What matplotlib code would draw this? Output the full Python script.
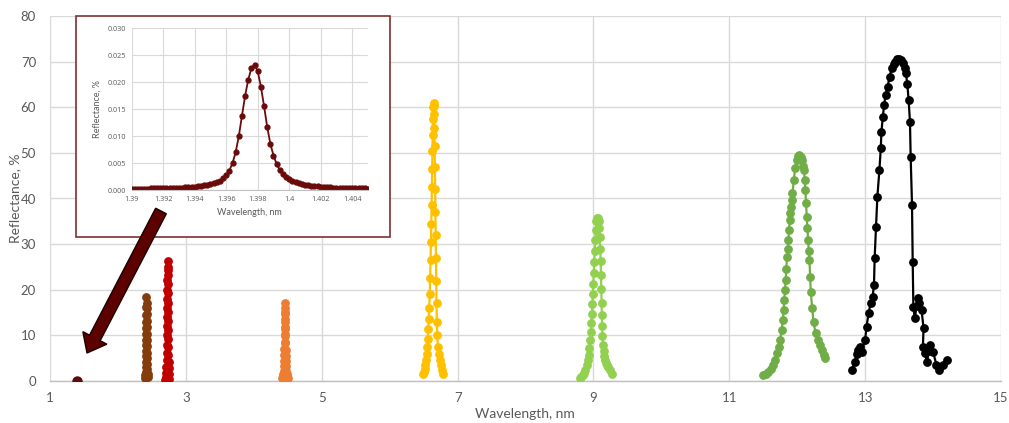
import matplotlib
matplotlib.use("Agg")
import matplotlib.pyplot as plt
from matplotlib import patches, transforms

plt.rcParams['font.family'] = ['Lato', 'DejaVu Sans']

# ---------------- data ----------------
maroon_x = [1.40]
maroon_y = [0.02]

brown_x = [2.400, 2.403, 2.406, 2.408, 2.410, 2.411, 2.412, 2.413, 2.414, 2.415, 2.416,
           2.417, 2.418, 2.419, 2.420, 2.421, 2.422, 2.423, 2.424, 2.425, 2.426, 2.427,
           2.428, 2.429, 2.430, 2.432, 2.434, 2.437, 2.440]
brown_y = [0.7, 1.3, 2.0, 3.0, 4.2, 5.4, 6.6, 7.8, 9.0, 10.3, 11.6,
           13.0, 14.5, 16.2, 18.5, 17.2, 16.0, 14.6, 13.2, 11.8, 10.4, 9.0,
           7.6, 6.2, 5.0, 3.8, 2.6, 1.6, 0.8]

red_x = [2.700, 2.705, 2.710, 2.714, 2.717, 2.719, 2.721, 2.723, 2.724, 2.725, 2.726,
         2.727, 2.728, 2.729, 2.730, 2.731, 2.732, 2.733, 2.734, 2.735, 2.736, 2.737,
         2.738, 2.739, 2.740, 2.742, 2.744, 2.747, 2.750, 2.754, 2.758]
red_y = [0.3, 0.9, 1.8, 3.0, 4.5, 6.2, 8.0, 10.0, 12.0, 14.0, 16.0,
         18.0, 20.0, 22.2, 24.3, 26.3, 25.0, 23.2, 21.2, 19.2, 17.2, 15.2,
         13.2, 11.2, 9.3, 7.5, 5.8, 4.2, 2.8, 1.5, 0.4]

orange_x = [4.420, 4.428, 4.435, 4.440, 4.444, 4.447, 4.450, 4.452, 4.454, 4.455, 4.456,
            4.457, 4.458, 4.459, 4.460, 4.461, 4.462, 4.463, 4.464, 4.465, 4.467, 4.469,
            4.472, 4.476, 4.481, 4.487, 4.494, 4.500]
orange_y = [0.6, 1.0, 1.6, 2.3, 3.2, 4.3, 5.6, 7.0, 8.6, 10.2, 11.8,
            13.5, 15.2, 17.0, 16.0, 14.6, 13.0, 11.4, 9.8, 8.3, 6.8, 5.5,
            4.3, 3.2, 2.3, 1.6, 1.0, 0.7]

gold_x = [6.495, 6.505, 6.515, 6.525, 6.535, 6.545, 6.552, 6.560, 6.567, 6.575, 6.582,
          6.590, 6.596, 6.602, 6.608, 6.613, 6.618, 6.622, 6.626, 6.630, 6.634, 6.638,
          6.642, 6.646, 6.650, 6.654, 6.658, 6.662, 6.666, 6.670, 6.674, 6.678, 6.682,
          6.686, 6.690, 6.695, 6.700, 6.710, 6.720, 6.735, 6.750, 6.770, 6.790]
gold_y = [1.5, 2.0, 2.6, 3.4, 4.5, 6.0, 7.5, 9.3, 11.3, 13.5, 16.0,
          19.0, 22.5, 26.5, 30.5, 34.5, 38.5, 42.5, 46.5, 50.5, 54.0, 57.5,
          60.0, 61.0, 60.3, 58.5, 55.5, 51.5, 47.0, 42.0, 37.0, 32.0, 27.0,
          22.0, 17.0, 13.0, 10.0, 7.5, 6.0, 4.5, 3.4, 2.4, 1.5]

lgreen_x = [8.800, 8.820, 8.840, 8.860, 8.880, 8.900, 8.915, 8.930, 8.942, 8.953, 8.962,
            8.970, 8.977, 8.984, 8.991, 8.998, 9.005, 9.012, 9.020, 9.028, 9.036, 9.045,
            9.055, 9.065, 9.075, 9.085, 9.093, 9.100, 9.106, 9.111, 9.116, 9.120, 9.124,
            9.128, 9.133, 9.140, 9.150, 9.162, 9.175, 9.190, 9.205, 9.220, 9.240, 9.270]
lgreen_y = [0.6, 0.9, 1.3, 1.8, 2.5, 3.4, 4.5, 5.8, 7.3, 9.0, 10.8,
            12.7, 14.7, 16.8, 19.0, 21.3, 23.6, 26.0, 28.5, 31.0, 33.2, 35.0,
            35.8, 35.7, 35.0, 33.5, 31.5, 29.0, 26.2, 23.2, 20.2, 17.2, 14.5,
            12.0, 9.8, 8.0, 6.6, 5.5, 4.6, 4.0, 3.5, 3.0, 2.4, 1.5]

green_x = [11.50, 11.54, 11.57, 11.61, 11.65, 11.68, 11.70, 11.73, 11.75, 11.77, 11.79,
           11.80, 11.81, 11.82, 11.83, 11.84, 11.85, 11.86, 11.87, 11.88, 11.89, 11.90,
           11.91, 11.92, 11.93, 11.95, 11.97, 11.99, 12.01, 12.03, 12.05, 12.07, 12.09,
           12.10, 12.11, 12.12, 12.13, 12.14, 12.15, 12.16, 12.17, 12.18, 12.19, 12.20,
           12.22, 12.24, 12.27, 12.30, 12.33, 12.36, 12.39, 12.41]
green_y = [1.3, 1.6, 2.0, 2.6, 3.5, 4.6, 6.1, 7.5, 9.0, 11.2, 13.4,
           15.6, 17.8, 20.0, 22.1, 24.5, 27.2, 29.0, 30.9, 33.0, 35.3, 36.8,
           38.2, 39.7, 41.1, 44.1, 46.6, 48.5, 49.3, 49.5, 49.0, 48.4, 47.2,
           46.2, 44.0, 41.9, 39.0, 36.0, 33.5, 30.9, 28.5, 26.5, 22.9, 19.5,
           16.0, 13.0, 10.5, 9.0, 7.9, 6.8, 5.6, 5.0]

black_x = [12.80, 12.85, 12.88, 12.90, 12.93, 12.95, 13.00, 13.02, 13.05, 13.08, 13.11,
           13.13, 13.14, 13.16, 13.18, 13.21, 13.23, 13.24, 13.26, 13.28, 13.30, 13.33,
           13.36, 13.39, 13.42, 13.44, 13.47, 13.50, 13.53, 13.56, 13.58, 13.60, 13.62,
           13.64, 13.66, 13.67, 13.69, 13.70, 13.71, 13.73, 13.76, 13.78, 13.80, 13.83,
           13.86, 13.85, 13.88, 13.91, 13.94, 13.96, 14.00, 14.05, 14.09, 14.14, 14.20]
black_y = [2.4, 4.2, 6.0, 6.8, 7.5, 6.4, 9.0, 11.9, 14.8, 17.0, 18.5,
           21.0, 26.9, 33.8, 40.4, 46.2, 51.0, 54.6, 57.9, 60.5, 62.7, 64.5,
           66.7, 68.5, 69.5, 70.0, 70.5, 70.6, 70.4, 69.6, 68.5, 67.4, 65.2,
           61.6, 56.8, 49.2, 38.6, 26.1, 16.3, 13.7, 16.5, 18.1, 17.0, 15.6,
           11.6, 7.5, 6.1, 4.2, 6.5, 7.9, 6.4, 3.5, 2.4, 3.5, 4.6]

inset_x = [1.3900, 1.3902, 1.3904, 1.3906, 1.3908, 1.3910, 1.3912, 1.3914, 1.3916, 1.3918,
           1.3920, 1.3922, 1.3924, 1.3926, 1.3928, 1.3930, 1.3932, 1.3934, 1.3936, 1.3938,
           1.3940, 1.3942, 1.3944, 1.3946, 1.3948, 1.3950, 1.3952, 1.3954, 1.3956, 1.3958,
           1.3960, 1.3962, 1.3964, 1.3966, 1.3968, 1.3970, 1.3972, 1.3974, 1.3976, 1.3978,
           1.3980, 1.3982, 1.3984, 1.3986, 1.3988, 1.3990, 1.3992, 1.3994, 1.3996, 1.3998,
           1.4000, 1.4002, 1.4004, 1.4006, 1.4008, 1.4010, 1.4012, 1.4014, 1.4016, 1.4018,
           1.4020, 1.4022, 1.4024, 1.4026, 1.4028, 1.4030, 1.4032, 1.4034, 1.4036, 1.4038,
           1.4040, 1.4042, 1.4044, 1.4046, 1.4048, 1.4050]
inset_y = [0.00025, 0.00025, 0.00025, 0.00026, 0.00026, 0.00027, 0.00028, 0.00029, 0.00030, 0.00031,
           0.00033, 0.00034, 0.00036, 0.00038, 0.00040, 0.00043, 0.00046, 0.00049, 0.00053, 0.00057,
           0.00062, 0.00068, 0.00075, 0.00084, 0.00095, 0.00108, 0.00125, 0.00146, 0.00174, 0.00215,
           0.00275, 0.00360, 0.00500, 0.00700, 0.01000, 0.01380, 0.01750, 0.02050, 0.02260, 0.02320,
           0.02200, 0.01920, 0.01560, 0.01170, 0.00860, 0.00640, 0.00480, 0.00370, 0.00290, 0.00235,
           0.00195, 0.00165, 0.00143, 0.00125, 0.00111, 0.00099, 0.00089, 0.00081, 0.00074, 0.00068,
           0.00062, 0.00057, 0.00053, 0.00049, 0.00046, 0.00043, 0.00040, 0.00038, 0.00036, 0.00034,
           0.00033, 0.00031, 0.00030, 0.00029, 0.00028, 0.00027]

main_xticks = [1, 3, 5, 7, 9, 11, 13, 15]
main_yticks = [0, 10, 20, 30, 40, 50, 60, 70, 80]
inset_xticks = [1.390, 1.392, 1.394, 1.396, 1.398, 1.400, 1.402, 1.404]
inset_xticklabels = ["1.39", "1.392", "1.394", "1.396", "1.398", "1.4", "1.402", "1.404"]
inset_yticks = [0.000, 0.005, 0.010, 0.015, 0.020, 0.025, 0.030]

series = [
    (maroon_x, maroon_y, "#5E0A0A"),
    (brown_x, brown_y, "#843C0C"),
    (red_x, red_y, "#C00000"),
    (orange_x, orange_y, "#ED7D31"),
    (gold_x, gold_y, "#FFC000"),
    (lgreen_x, lgreen_y, "#92D050"),
    (green_x, green_y, "#70AD47"),
    (black_x, black_y, "#000000"),
]

# ---------------- figure ----------------
W, H = 1009, 423
fig = plt.figure(figsize=(W / 100, H / 100), dpi=100)
grid_c = "#D9D9D9"
text_c = "#595959"

ax = fig.add_axes([50 / W, 1 - 381 / H, (1001 - 50) / W, (381 - 16) / H])
for xs, ys, c in series:
    ms = 6.5 if c == "#5E0A0A" else 5.3
    ax.plot(xs, ys, color=c, lw=1.6, marker="o", ms=ms, mec=c, mfc=c, zorder=3)

ax.set_xlim(1, 15)
ax.set_ylim(0, 80)
ax.set_xticks(main_xticks)
ax.set_yticks(main_yticks)
ax.grid(True, color=grid_c, lw=1)
ax.set_axisbelow(True)
for s in ["top", "right", "left"]:
    ax.spines[s].set_visible(False)
ax.spines["bottom"].set_color("#BFBFBF")
ax.spines["bottom"].set_linewidth(1)
ax.tick_params(length=0, labelsize=9.5, labelcolor=text_c, pad=8)
ax.tick_params(axis="y", pad=10)
fig.text(525 / W, 1 - 414 / H, "Wavelength, nm", fontsize=10, color=text_c,
         ha="center", va="center")
fig.text(15 / W, 1 - 198 / H, "Reflectance, %", fontsize=10, color=text_c,
         ha="center", va="center", rotation=90)

# inset frame
frame = patches.Rectangle((76 / W, 1 - 237 / H), (390 - 76) / W, (237 - 16.5) / H,
                          transform=fig.transFigure, facecolor="white",
                          edgecolor="#7F2F2F", lw=1.2, zorder=5)
fig.add_artist(frame)

iax = fig.add_axes([131.7 / W, 1 - 190 / H, (368 - 131.7) / W, (190 - 28.3) / H], zorder=6)
iax.plot(inset_x, inset_y, color="#6B0A0A", lw=1.3, marker="o", ms=3.5,
         mec="#6B0A0A", mfc="#6B0A0A")
iax.set_xlim(1.39, 1.405)
iax.set_ylim(0, 0.03)
iax.set_xticks(inset_xticks)
iax.set_xticklabels(inset_xticklabels, family=["Open Sans", "DejaVu Sans"])
iax.set_yticks(inset_yticks)
iax.set_yticklabels([f"{v:.3f}" for v in inset_yticks], family=["Open Sans", "DejaVu Sans"])
iax.grid(True, color=grid_c, lw=0.8)
iax.set_axisbelow(True)
for s in ["top", "right", "left"]:
    iax.spines[s].set_visible(False)
iax.spines["bottom"].set_color("#BFBFBF")
iax.tick_params(length=0, labelsize=5.2, labelcolor=text_c, pad=4)
iax.set_xlabel("Wavelength, nm", fontsize=6.5, color=text_c, labelpad=4)
iax.set_ylabel("Reflectance, %", fontsize=6.5, color=text_c, labelpad=4)

# block arrow (pixel coordinates, y measured from bottom)
arrow = patches.FancyArrow(161, H - 211, 87 - 161, (H - 353) - (H - 211),
                           width=12, head_width=27, head_length=17,
                           length_includes_head=True,
                           transform=transforms.IdentityTransform(),
                           facecolor="#5C0000", edgecolor="#1A0000", lw=1, zorder=7)
fig.add_artist(arrow)

fig.savefig("out.png", dpi=100)
